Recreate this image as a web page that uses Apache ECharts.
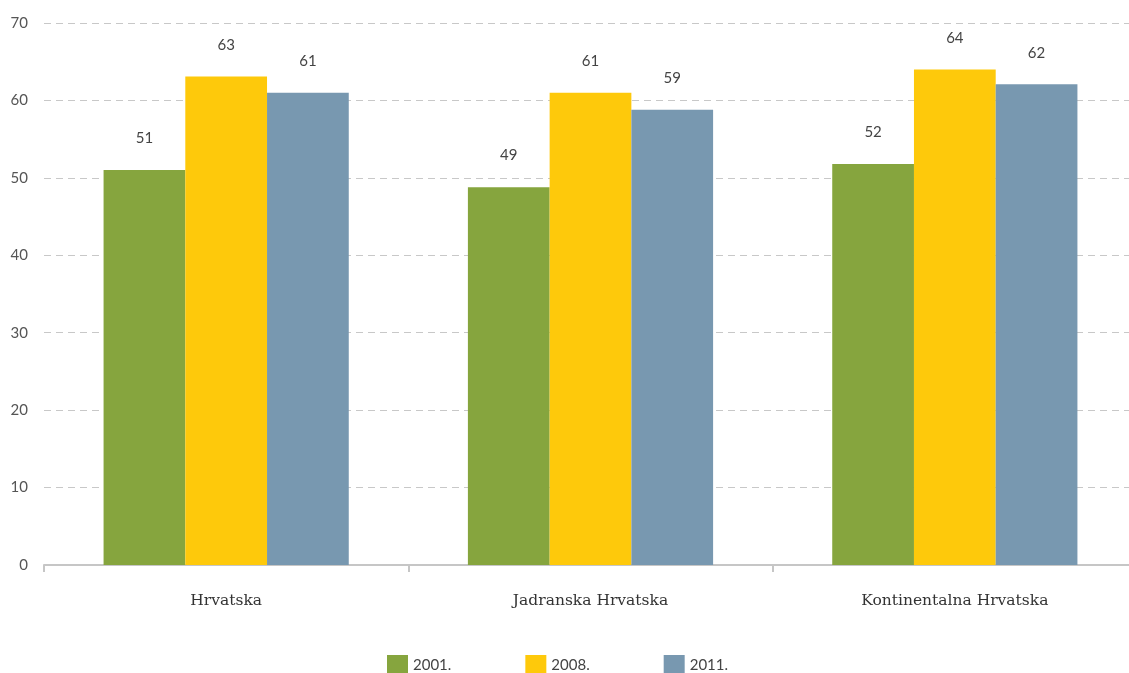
<!DOCTYPE html>
<html>
<head>
<meta charset="utf-8">
<script src="https://cdn.jsdelivr.net/npm/echarts@6/dist/echarts.min.js"></script>
<style>
html,body{margin:0;padding:0;background:#fff;overflow:hidden;}
#chart{width:1137px;height:673px;}
</style>
</head>
<body>
<div id="chart"></div>
<script>
const categories = ['Hrvatska', 'Jadranska Hrvatska', 'Kontinentalna Hrvatska'];
const seriesNames = ['2001.', '2008.', '2011.'];
const values2001 = [51.0, 48.8, 51.8];
const values2008 = [63.1, 61.0, 64.0];
const values2011 = [61.0, 58.8, 62.1];
const yTicks = [0, 10, 20, 30, 40, 50, 60, 70];

const colors = ['#86a53e', '#fec90b', '#7898b0'];
const numFont = 'Lato';
const catFont = 'DejaVu Serif';

function barSeries(name, data, color) {
  return {
    name: name,
    type: 'bar',
    data: data,
    barGap: '0%',
    barCategoryGap: '32.7%',
    itemStyle: { color: color },
    label: {
      show: true,
      position: 'top',
      distance: 24,
      color: '#444',
      fontFamily: numFont,
      fontSize: 15,
      formatter: p => Math.round(p.value)
    }
  };
}

const chart = echarts.init(document.getElementById('chart'));
chart.setOption({
  animation: false,
  color: colors,
  grid: { left: 44, top: 23, right: 0, bottom: 108, containLabel: false },
  legend: {
    data: seriesNames,
    left: 382,
    top: 650,
    itemWidth: 21,
    itemHeight: 20,
    itemGap: 74,
    icon: 'rect',
    textStyle: { color: '#444', fontFamily: numFont, fontSize: 15, padding: [4, 0, 0, 0] }
  },
  xAxis: {
    type: 'category',
    data: categories,
    axisLine: { show: true, lineStyle: { color: '#c6c6c6', width: 2 } },
    axisTick: { show: true, length: 7, lineStyle: { color: '#c6c6c6', width: 2 } },
    axisLabel: { color: '#333', fontFamily: catFont, fontSize: 15.5, margin: 28 }
  },
  yAxis: {
    type: 'value',
    min: yTicks[0],
    max: yTicks[yTicks.length - 1],
    interval: 10,
    axisLine: { show: false },
    axisTick: { show: false },
    axisLabel: { color: '#555', fontFamily: numFont, fontSize: 15, margin: 16 },
    splitLine: { lineStyle: { color: '#c8c8c8', type: [7, 5], width: 1.2 } }
  },
  series: [
    barSeries(seriesNames[0], values2001, colors[0]),
    barSeries(seriesNames[1], values2008, colors[1]),
    barSeries(seriesNames[2], values2011, colors[2])
  ]
});
</script>
</body>
</html>
